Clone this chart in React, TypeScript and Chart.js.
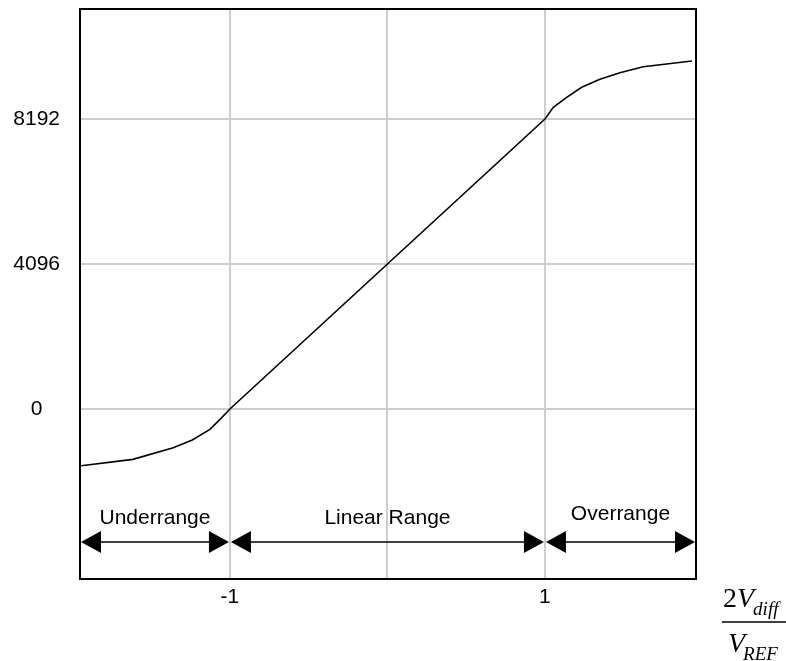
import React, { useEffect, useRef } from 'react';
import { Chart, registerables } from 'chart.js';

Chart.register(...registerables);

// Transfer curve (x = 2Vdiff/VREF, y = output code)
const xValues = [-1.944, -1.616, -1.36, -1.239, -1.127, -1.063, -1.0, 1.0, 1.053, 1.138, 1.233, 1.349, 1.476, 1.624, 1.933];
const yValues = [-1601, -1422, -1093, -876, -574, -292, 0, 8192, 8522, 8805, 9087, 9313, 9500, 9669, 9830];

const xTickValues = [-1, 0, 1];
const xTickLabels = ['-1', '', '1'];
const yTickValues = [0, 4096, 8192];
const yTickLabels = ['0', '4096', '8192'];

const X_MIN = -1.952;
const X_MAX = 1.959;
const Y_MIN = -4802;
const Y_MAX = 11299;

const rangeNames = ['Underrange', 'Linear Range', 'Overrange'];
const rangeStarts = [X_MIN, -1, 1];
const rangeEnds = [-1, 1, X_MAX];
const rangeLabelLevels = [-3250, -3250, -3140];
const arrowLevel = -3757;

const SANS = '"Liberation Sans", Arial, sans-serif';
const SERIF = '"Liberation Serif", "Times New Roman", serif';

const overlayPlugin = {
  id: 'overlay',
  afterDraw(chart: any) {
    const { ctx, chartArea } = chart;
    const xs = chart.scales.x;
    const ys = chart.scales.y;
    ctx.save();

    // frame
    ctx.strokeStyle = '#000';
    ctx.lineWidth = 2;
    ctx.strokeRect(chartArea.left, chartArea.top, chartArea.right - chartArea.left, chartArea.bottom - chartArea.top);

    // range arrows
    const ay = ys.getPixelForValue(arrowLevel);
    const headLen = 20;
    const headHalf = 11;
    for (let i = 0; i < rangeNames.length; i++) {
      const x0 = xs.getPixelForValue(rangeStarts[i]) + 1;
      const x1 = xs.getPixelForValue(rangeEnds[i]) - 1;
      ctx.strokeStyle = '#000';
      ctx.lineWidth = 1.5;
      ctx.beginPath();
      ctx.moveTo(x0 + headLen - 2, ay);
      ctx.lineTo(x1 - headLen + 2, ay);
      ctx.stroke();
      ctx.fillStyle = '#000';
      ctx.beginPath();
      ctx.moveTo(x0, ay);
      ctx.lineTo(x0 + headLen, ay - headHalf);
      ctx.lineTo(x0 + headLen, ay + headHalf);
      ctx.closePath();
      ctx.fill();
      ctx.beginPath();
      ctx.moveTo(x1, ay);
      ctx.lineTo(x1 - headLen, ay - headHalf);
      ctx.lineTo(x1 - headLen, ay + headHalf);
      ctx.closePath();
      ctx.fill();

      ctx.font = `21px ${SANS}`;
      ctx.textAlign = 'center';
      ctx.textBaseline = 'alphabetic';
      ctx.fillText(rangeNames[i], (x0 + x1) / 2, ys.getPixelForValue(rangeLabelLevels[i]));
    }

    // axis title as a fraction: 2V_diff / V_REF
    const fx = chartArea.right + 27;
    const numBase = chartArea.bottom + 28;
    ctx.textAlign = 'left';
    ctx.textBaseline = 'alphabetic';
    ctx.fillStyle = '#000';
    ctx.font = `28px ${SERIF}`;
    ctx.fillText('2', fx, numBase);
    const w2 = ctx.measureText('2').width;
    ctx.font = `italic 28px ${SERIF}`;
    ctx.fillText('V', fx + w2, numBase);
    const wV = ctx.measureText('V').width;
    ctx.font = `italic 19px ${SERIF}`;
    ctx.fillText('diff', fx + w2 + wV - 1, numBase + 8);

    const lineY = chartArea.bottom + 43;
    ctx.lineWidth = 1.5;
    ctx.beginPath();
    ctx.moveTo(fx - 1, lineY);
    ctx.lineTo(fx + 63, lineY);
    ctx.stroke();

    const denBase = chartArea.bottom + 73;
    ctx.font = `italic 28px ${SERIF}`;
    ctx.fillText('V', fx + 5, denBase);
    const wV2 = ctx.measureText('V').width;
    ctx.font = `italic 19px ${SERIF}`;
    ctx.fillText('REF', fx + 5 + wV2 - 2, denBase + 8);

    ctx.restore();
  },
};

export default function App() {
  const canvasRef = useRef<HTMLCanvasElement | null>(null);

  useEffect(() => {
    const canvas = canvasRef.current;
    if (!canvas) return;
    const points = xValues.map((x, i) => ({ x, y: yValues[i] }));
    const chart = new Chart(canvas, {
      type: 'line',
      data: {
        datasets: [
          {
            data: points,
            borderColor: '#000',
            borderWidth: 1.6,
            pointRadius: 0,
            tension: 0,
            fill: false,
          },
        ],
      },
      options: {
        responsive: false,
        animation: false,
        devicePixelRatio: 1,
        layout: { padding: { left: 0, top: 9, right: 90, bottom: 0 } },
        plugins: {
          legend: { display: false },
          tooltip: { enabled: false },
        },
        scales: {
          x: {
            type: 'linear',
            position: 'bottom',
            min: X_MIN,
            max: X_MAX,
            afterBuildTicks: (axis: any) => {
              axis.ticks = xTickValues.map((v) => ({ value: v }));
            },
            afterFit: (axis: any) => {
              axis.height = 82;
              axis.paddingLeft = 0;
              axis.paddingRight = 0;
            },
            ticks: {
              autoSkip: false,
              maxRotation: 0,
              padding: 6,
              color: '#000',
              font: { family: SANS, size: 21 },
              callback: (value: any) => {
                const i = xTickValues.indexOf(Number(value));
                return i >= 0 ? xTickLabels[i] : '';
              },
            },
            grid: { color: '#cdcdcd', lineWidth: 2, drawTicks: false },
            border: { display: false },
          },
          y: {
            type: 'linear',
            position: 'left',
            min: Y_MIN,
            max: Y_MAX,
            afterBuildTicks: (axis: any) => {
              axis.ticks = yTickValues.map((v) => ({ value: v }));
            },
            afterFit: (axis: any) => {
              axis.width = 80;
              axis.paddingTop = 0;
              axis.paddingBottom = 0;
            },
            ticks: {
              crossAlign: 'center',
              padding: 20,
              color: '#000',
              font: { family: SANS, size: 21 },
              callback: (value: any) => {
                const i = yTickValues.indexOf(Number(value));
                return i >= 0 ? yTickLabels[i] : '';
              },
            },
            grid: { color: '#cdcdcd', lineWidth: 2, drawTicks: false },
            border: { display: false },
          },
        },
      },
      plugins: [overlayPlugin],
    });
    return () => chart.destroy();
  }, []);

  return (
    <div style={{ position: 'fixed', left: 0, top: 0, width: 786, height: 661, background: '#fff' }}>
      <canvas ref={canvasRef} width={786} height={661} style={{ display: 'block' }} />
    </div>
  );
}
